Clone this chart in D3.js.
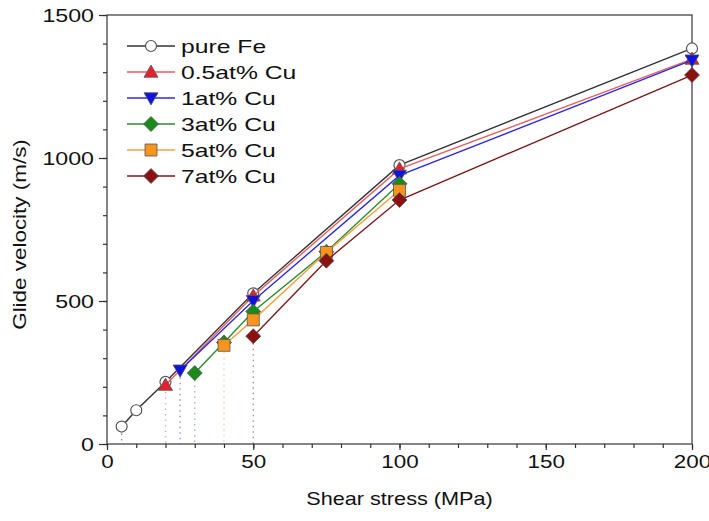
<!DOCTYPE html>
<html><head><meta charset="utf-8">
<script src="https://cdn.jsdelivr.net/npm/d3@7"></script>
<style>body{margin:0;background:#fff}svg{display:block}text{font-family:"Liberation Sans",Arial,sans-serif;fill:#111}</style>
</head><body><svg id="c" width="709" height="521"></svg>
<script>
const seriesNames = ["pure Fe","0.5at% Cu","1at% Cu","3at% Cu","5at% Cu","7at% Cu"];
const colors = ["#222222","#e8202a","#1010e0","#1a8a1a","#f7941d","#8b1010"];
const lineColors = ["#333333","#e86060","#2a2ae0","#2e8b2e","#f5a040","#7a1a1a"];
const shapes = ["circle","triUp","triDown","diamond","square","diamond"];
const xPure = [5,10,20,50,100,200];      const yPure = [61,118,217,527,975,1383];
const xCu05 = [20,50,100,200];           const yCu05 = [206,518,962,1346];
const xCu1  = [25,50,100,200];           const yCu1  = [258,501,939,1342];
const xCu3  = [30,40,50,75,100];         const yCu3  = [248,355,463,672,910];
const xCu5  = [40,50,75,100];            const yCu5  = [345,434,670,887];
const xCu7  = [50,75,100,200];           const yCu7  = [377,641,853,1290];
const xTickLabels = [0,50,100,150,200];
const yTickLabels = [0,500,1000,1500];

const xs = [xPure,xCu05,xCu1,xCu3,xCu5,xCu7];
const ys = [yPure,yCu05,yCu1,yCu3,yCu5,yCu7];

const svg = d3.select("#c");
const L=107,R=692,T=15,B=444;
const x = d3.scaleLinear().domain([0,200]).range([L,R]);
const y = d3.scaleLinear().domain([0,1500]).range([B,T]);

function stretch(sel, f){
  sel.each(function(){
    const w = this.getComputedTextLength();
    d3.select(this).attr("textLength", w*f).attr("lengthAdjust","spacingAndGlyphs");
  });
}

// frame
svg.append("rect").attr("x",L).attr("y",T).attr("width",R-L).attr("height",B-T)
  .attr("fill","none").attr("stroke","#444").attr("stroke-width",1.3);

// x axis
const xa = svg.append("g").attr("transform",`translate(0,${B})`)
  .call(d3.axisBottom(x).tickValues(d3.range(0,201,10)).tickSize(4).tickFormat(""));
xa.select(".domain").remove();
xa.selectAll("line").attr("stroke","#333").attr("stroke-width",1.2);
const xl = svg.append("g").attr("transform",`translate(0,${B})`)
  .call(d3.axisBottom(x).tickValues(xTickLabels).tickSize(6).tickPadding(5).tickFormat(d3.format("d")));
xl.select(".domain").remove();
xl.selectAll("line").attr("stroke","#333").attr("stroke-width",1.2);
xl.selectAll("text").attr("font-size",19).style("fill","#111");
stretch(xl.selectAll("text"),1.18);

// y axis
const ya = svg.append("g").attr("transform",`translate(${L},0)`)
  .call(d3.axisLeft(y).tickValues(d3.range(0,1501,100)).tickSize(4).tickFormat(""));
ya.select(".domain").remove();
ya.selectAll("line").attr("stroke","#333").attr("stroke-width",1.2);
const yl = svg.append("g").attr("transform",`translate(${L},0)`)
  .call(d3.axisLeft(y).tickValues(yTickLabels).tickSize(8).tickPadding(5).tickFormat(d3.format("d")));
yl.select(".domain").remove();
yl.selectAll("line").attr("stroke","#333").attr("stroke-width",1.2);
yl.selectAll("text").attr("font-size",19).style("fill","#111");
stretch(yl.selectAll("text"),1.22);

// titles
const xt = svg.append("text").attr("x",(L+R)/2).attr("y",505).attr("text-anchor","middle")
  .attr("font-size",19).text("Shear stress (MPa)");
stretch(xt,1.14);
const yt = svg.append("text").attr("transform",`translate(26,${(T+B)/2+5}) rotate(-90)`)
  .attr("text-anchor","middle").attr("font-size",19).text("Glide velocity (m/s)");
stretch(yt,1.18);

function marker(g, shape, cx, cy, fill){
  if(shape==="circle"){
    return g.append("circle").attr("cx",cx).attr("cy",cy).attr("r",5.5).attr("fill","#fff")
      .attr("stroke","#555").attr("stroke-width",1.2);
  }
  const s=7;
  let pts;
  if(shape==="triUp") pts=[[0,-s],[s,s*0.75],[-s,s*0.75]];
  else if(shape==="triDown") pts=[[0,s],[s,-s*0.75],[-s,-s*0.75]];
  else if(shape==="diamond") pts=[[0,-7.5],[7.5,0],[0,7.5],[-7.5,0]];
  else pts=[[-6,-6],[6,-6],[6,6],[-6,6]];
  return g.append("polygon").attr("points",pts.map(d=>[d[0]+cx,d[1]+cy].join(",")).join(" "))
    .attr("fill",fill).attr("stroke","#555").attr("stroke-width",0.8);
}

// drop lines
xs.forEach((xx,i)=>{
  svg.append("line").attr("x1",x(xx[0])).attr("x2",x(xx[0])).attr("y1",y(ys[i][0])+7).attr("y2",B)
    .attr("stroke",lineColors[i]).attr("stroke-opacity",0.55).attr("stroke-width",1.3)
    .attr("stroke-dasharray","1.5,4");
});

// series
const line = d3.line().x(d=>x(d[0])).y(d=>y(d[1]));
xs.forEach((xx,i)=>{
  const data = xx.map((v,j)=>[v,ys[i][j]]);
  const g = svg.append("g");
  g.append("path").attr("d",line(data)).attr("fill","none").attr("stroke",lineColors[i]).attr("stroke-width",1.4);
  data.forEach(d=>marker(g,shapes[i],x(d[0]),y(d[1]),colors[i]));
});

// legend
seriesNames.forEach((n,i)=>{
  const cy = 46 + 26*i;
  const g = svg.append("g");
  g.append("line").attr("x1",127).attr("x2",175).attr("y1",cy).attr("y2",cy)
    .attr("stroke",lineColors[i]).attr("stroke-width",1.4);
  marker(g,shapes[i],151,cy,colors[i]);
  const t = g.append("text").attr("x",181).attr("y",cy).attr("dy","0.36em").attr("font-size",19).text(n);
  stretch(t,1.3);
});
</script></body></html>
